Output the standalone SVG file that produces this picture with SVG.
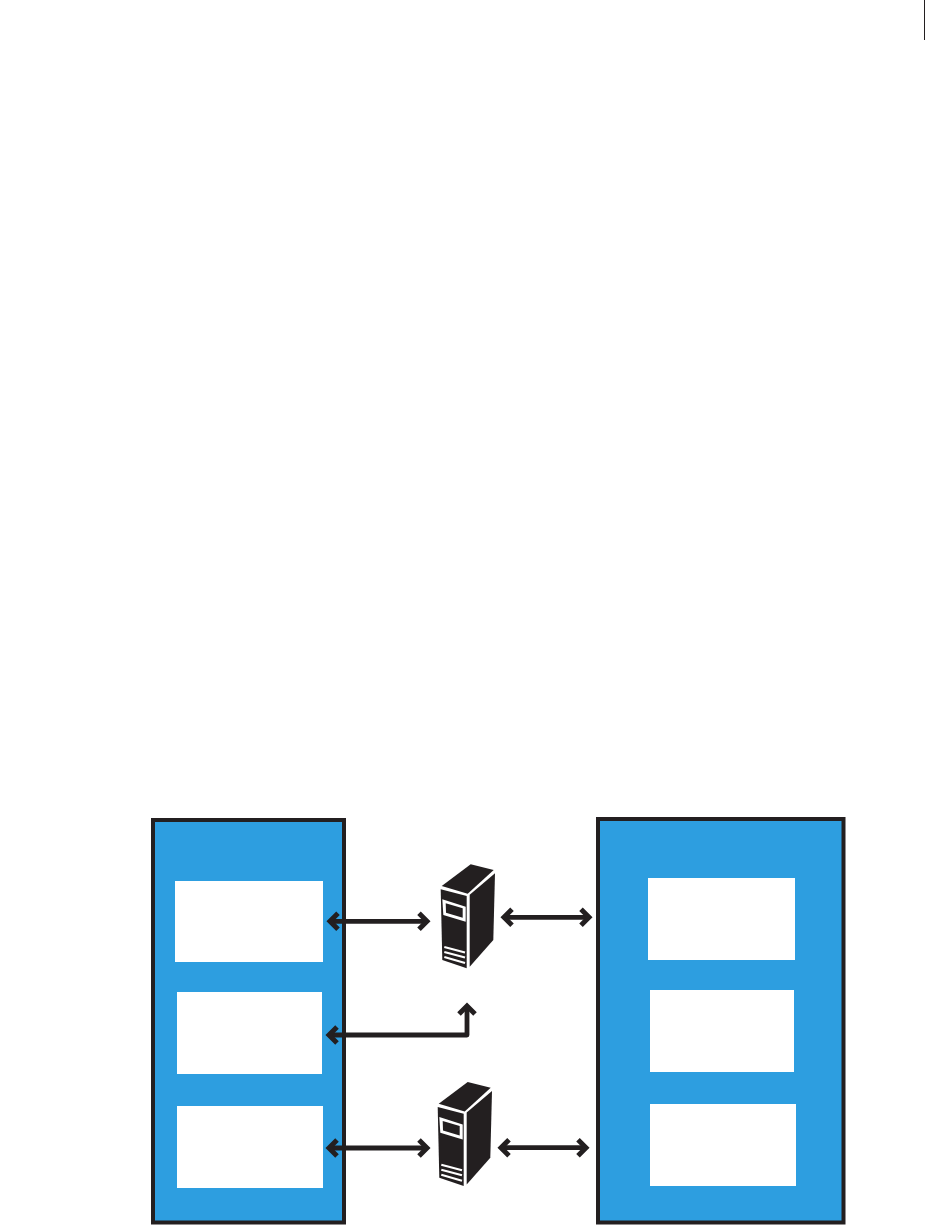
<svg xmlns="http://www.w3.org/2000/svg" width="925" height="1225" viewBox="0 0 925 1225">
<style>
.panel{fill:#2d9ee0;stroke:#231f20;stroke-width:4}
.box{fill:#fff}
.dark{fill:#231f20}
.conn{fill:none;stroke:#231f20;stroke-width:4.800;stroke-linejoin:round;marker-start:url(#head);marker-end:url(#head)}
.vent{fill:none;stroke:#fff;stroke-width:2.200}
</style>
<defs>
<marker id="head" markerUnits="userSpaceOnUse" markerWidth="30" markerHeight="30" viewBox="-15 -15 30 30" refX="0" refY="0" orient="auto-start-reverse">
<path d="M-8,-8 L0,0 L-8,8" fill="none" stroke="#231f20" stroke-width="5" stroke-miterlimit="10"/>
</marker>
<g id="server">
<polygon class="dark" points="441.7,886 470.7,864.3 493.7,870 467.7,893.700"/>
<polygon class="dark" points="440.7,889.3 466.7,896 466.7,968.3 442.3,960"/>
<polygon class="dark" points="469.7,894.7 495,873.3 493.3,940 469.7,966.700"/>
<polygon fill="#fff" points="442.3,899.3 465.7,906.7 465.7,921.7 443.3,915"/>
<polygon class="dark" points="445.7,903.3 462.7,908.3 462.7,917.7 446,912.700"/>
<polyline class="vent" points="444.3,947 465,952.500"/>
<polyline class="vent" points="444.3,952 465,957.500"/>
<polyline class="vent" points="444.3,957 465,963"/>
</g>
</defs>
<rect width="925" height="1225" fill="#fff"/>
<rect x="924" y="0" width="1" height="40" fill="#231f20"/>
<g id="left-panel">
<rect class="panel" x="153" y="820" width="191" height="402.500"/>
</g>
<g id="right-panel">
<rect class="panel" x="598" y="819" width="245.500" height="403.500"/>
</g>
<g id="left-box-1"><rect class="box" x="175" y="881" width="148" height="81"/></g>
<g id="left-box-2"><rect class="box" x="177" y="992" width="145" height="82"/></g>
<g id="left-box-3"><rect class="box" x="177" y="1106" width="146" height="82"/></g>
<g id="right-box-1"><rect class="box" x="648" y="878" width="147" height="82"/></g>
<g id="right-box-2"><rect class="box" x="650" y="990" width="144" height="82"/></g>
<g id="right-box-3"><rect class="box" x="650" y="1104" width="146" height="82"/></g>
<g id="server-1"><use href="#server"/></g>
<g id="server-2"><use href="#server" transform="translate(-3 217.700)"/></g>
<g id="connectors">
<path class="conn" d="M330,921.300 H427"/>
<path class="conn" d="M504,917.300 H589"/>
<path class="conn" d="M329,1035 H467 V1006"/>
<path class="conn" d="M329,1148 H427"/>
<path class="conn" d="M501,1147.700 H586"/>
</g>
</svg>
